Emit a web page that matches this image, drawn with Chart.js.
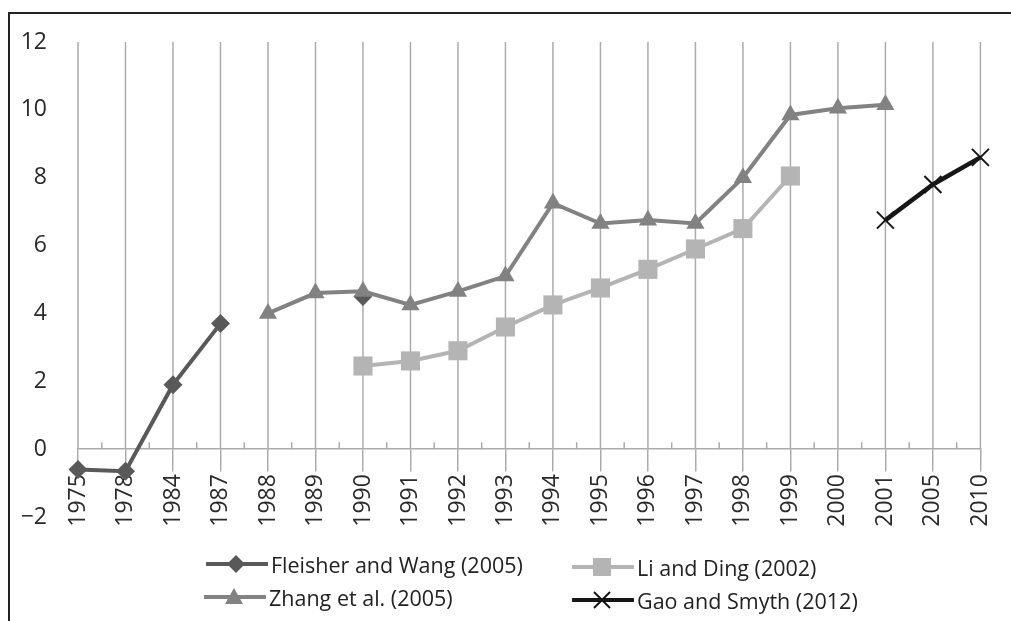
<!DOCTYPE html>
<html>
<head>
<meta charset="utf-8">
<script src="https://cdn.jsdelivr.net/npm/chart.js@4/dist/chart.umd.min.js"></script>
<style>
html, body { margin: 0; padding: 0; background: #fff; }
#wrap { position: relative; width: 1011px; height: 621px; overflow: hidden; font-family: "Open Sans", sans-serif; }
#frame { position: absolute; left: 8px; top: 12px; right: -10px; bottom: -10px; border-left: 2px solid #222; border-top: 2px solid #222; }
#chart { position: absolute; left: 0; top: 0; }
.leg { position: absolute; height: 30px; display: flex; align-items: center; font-size: 21.5px; color: #222; white-space: nowrap; }
.leg svg { margin-right: 3px; }
</style>
</head>
<body>
<div id="wrap">
  <div id="frame"></div>
  <canvas id="chart" width="1011" height="621"></canvas>
  <div id="legend"></div>
</div>
<script>
// years on the category axis
const years = ['1975', '1978', '1984', '1987', '1988', '1989', '1990', '1991', '1992', '1993',
               '1994', '1995', '1996', '1997', '1998', '1999', '2000', '2001', '2005', '2010'];

// series values (null = no estimate)
const fleisherWang = [-0.6, -0.65, 1.9, 3.7, null, null, 4.5, null, null, null,
                      null, null, null, null, null, null, null, null, null, null];
const zhangEtAl    = [null, null, null, null, 4.0, 4.6, 4.65, 4.25, 4.65, 5.1,
                      7.25, 6.65, 6.75, 6.65, 8.0, 9.85, 10.05, 10.15, null, null];
const liDing       = [null, null, null, null, null, null, 2.45, 2.6, 2.9, 3.6,
                      4.25, 4.75, 5.3, 5.9, 6.5, 8.05, null, null, null, null];
const gaoSmyth     = [null, null, null, null, null, null, null, null, null, null,
                      null, null, null, null, null, null, null, 6.75, 7.8, 8.6];

const seriesNames = ['Fleisher and Wang (2005)', 'Zhang et al. (2005)', 'Li and Ding (2002)', 'Gao and Smyth (2012)'];

const gridColor = '#ababab';

// style for each series, same order as seriesNames
const styles = [
  { color: '#595959', point: 'rectRot', radius: 9.5, order: 4 },
  { color: '#828282', point: 'triangle', radius: 10.5, order: 3 },
  { color: '#b4b4b4', point: 'rect', radius: 13.5, order: 2 },
  { color: '#161616', point: 'crossRot', radius: 12, order: 1 }
];
const seriesData = [fleisherWang, zhangEtAl, liDing, gaoSmyth];

Chart.defaults.font.family = "'Open Sans', sans-serif";
Chart.defaults.color = '#2a2a2a';

// vertical lines from top down to zero, and small ticks between categories
const catGrid = {
  id: 'catGrid',
  beforeDatasetsDraw(chart) {
    const x = chart.scales.x, y = chart.scales.y;
    const ctx = chart.ctx;
    const top = y.getPixelForValue(y.max);
    const zero = y.getPixelForValue(0);
    ctx.save();
    ctx.strokeStyle = gridColor;
    ctx.lineWidth = 1.5;
    ctx.beginPath();
    x.ticks.forEach((t, i) => {
      const px = x.getPixelForTick(i);
      ctx.moveTo(px, top);
      ctx.lineTo(px, zero);
      if (i < x.ticks.length - 1) {
        const mid = (px + x.getPixelForTick(i + 1)) / 2;
        ctx.moveTo(mid, zero);
        ctx.lineTo(mid, zero - 7);
      }
    });
    ctx.stroke();
    ctx.restore();
  }
};

const datasets = seriesNames.map((name, i) => ({
  label: name,
  data: seriesData[i],
  borderColor: styles[i].color,
  backgroundColor: styles[i].color,
  pointBackgroundColor: styles[i].color,
  pointBorderColor: styles[i].color,
  pointStyle: styles[i].point,
  pointRadius: styles[i].radius,
  pointHoverRadius: styles[i].radius,
  pointBorderWidth: styles[i].point === 'crossRot' ? 2 : 0,
  borderWidth: styles[i].point === 'crossRot' ? 4.5 : 4,
  tension: 0,
  spanGaps: false,
  clip: false,
  order: styles[i].order
}));

new Chart(document.getElementById('chart'), {
  type: 'line',
  data: { labels: years, datasets: datasets },
  options: {
    responsive: false,
    animation: false,
    layout: { padding: { left: 8, right: 26, top: 42, bottom: 104 } },
    plugins: { legend: { display: false }, tooltip: { enabled: false } },
    scales: {
      x: {
        position: { y: 0 },
        offset: false,
        grid: { drawOnChartArea: false, drawTicks: true, tickLength: 22, color: gridColor, lineWidth: 1.5 },
        border: { color: gridColor, width: 1.5 },
        ticks: { minRotation: 90, maxRotation: 90, autoSkip: false, padding: 3, font: { size: 23 } }
      },
      y: {
        min: -2,
        max: 12,
        afterFit: (s) => { s.width = 70; },
        grid: { display: false },
        border: { display: false },
        ticks: {
          stepSize: 2,
          padding: 23,
          font: { size: 23 },
          callback: (v) => String(v).replace('-', '\u2212')
        }
      }
    }
  },
  plugins: [catGrid]
});

// legend: two columns, line with marker then the name
function markerSvg(st) {
  const c = st.color;
  let m = '';
  if (st.point === 'rectRot') m = `<polygon points="30,6 39,15 30,24 21,15" fill="${c}"/>`;
  if (st.point === 'triangle') m = `<polygon points="30,6 39,22 21,22" fill="${c}"/>`;
  if (st.point === 'rect') m = `<rect x="21" y="6" width="18" height="18" fill="${c}"/>`;
  if (st.point === 'crossRot') m = `<path d="M22,7 L38,23 M38,7 L22,23" stroke="${c}" stroke-width="2"/>`;
  return `<svg width="62" height="30"><line x1="1" y1="15" x2="61" y2="15" stroke="${c}" stroke-width="4" stroke-linecap="round"/>${m}</svg>`;
}
const legendSpots = [[206, 549], [204, 582], [572, 552], [572, 585]];
const legendEl = document.getElementById('legend');
seriesNames.forEach((name, i) => {
  const d = document.createElement('div');
  d.className = 'leg';
  d.style.left = legendSpots[i][0] + 'px';
  d.style.top = legendSpots[i][1] + 'px';
  d.innerHTML = markerSvg(styles[i]) + '<span>' + name + '</span>';
  legendEl.appendChild(d);
});
</script>
</body>
</html>
